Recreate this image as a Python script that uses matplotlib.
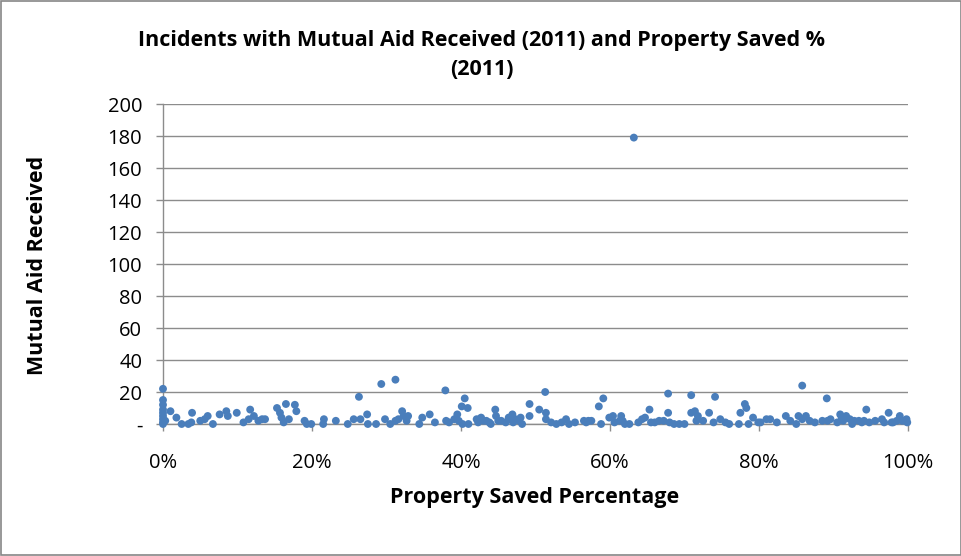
import matplotlib
matplotlib.use("Agg")
import matplotlib.pyplot as plt
from matplotlib.ticker import FuncFormatter, MultipleLocator
from matplotlib.patches import Rectangle

# Property saved (%) and mutual aid received
saved_pct = [
    0, 0, 0, 0, 0, 0, 0, 0, 0, 0.3,
    1.0, 1.8, 2.5, 3.4, 3.9, 3.8, 5.0, 5.6, 6.0, 6.7,
    7.6, 8.5, 8.7, 9.9, 10.8, 11.7, 11.5, 12.2, 12.8, 13.3,
    13.7, 15.3, 15.7, 15.9, 16.5, 16.2, 16.9, 17.7, 17.9, 19.0,
    19.3, 19.9, 21.6, 21.5, 23.2, 24.8, 25.6, 26.3, 26.5, 27.4,
    27.5, 29.3, 31.2, 28.6, 29.8, 31.2, 31.6, 32.1, 32.3, 32.7,
    32.9, 34.4, 34.8, 35.8, 37.9, 38.0, 38.4, 39.1, 39.5, 39.7,
    40.1, 40.5, 40.9, 40.2, 41.0, 42.1, 42.3, 42.7, 43.0, 43.4,
    43.8, 44.6, 44.7, 45.4, 46.0, 46.4, 46.9, 47.3, 47.8, 48.2,
    49.2, 49.2, 50.5, 51.3, 51.4, 51.4, 52.1, 52.8, 54.1, 54.5,
    55.3, 56.5, 56.8, 57.1, 58.5, 59.1, 58.8, 59.9, 60.4, 60.6,
    61.3, 61.5, 61.7, 62.6, 63.2, 63.8, 64.3, 64.7, 65.3, 65.5,
    66.6, 67.2, 67.8, 67.8, 68.0, 68.6, 69.3, 70.0, 70.9, 70.9,
    71.4, 71.8, 71.6, 72.5, 73.3, 74.1, 73.9, 74.8, 75.5, 76.0,
    77.3, 77.5, 78.1, 78.3, 78.6, 79.2, 79.9, 80.2, 81.0, 81.5,
    82.4, 83.6, 84.2, 85.0, 85.3, 85.8, 85.8, 86.3, 86.8, 87.5,
    88.5, 89.1, 89.2, 89.6, 90.9, 91.1, 91.3, 91.7, 92.2, 92.8,
    93.4, 94.1, 94.4, 94.8, 95.6, 96.5, 96.8, 97.4, 98.0, 98.9,
    99.2, 99.6, 99.8, 99.9, 44.0, 45.0, 46.6, 47.0, 48.0, 90.5,
    92.5, 93.8, 97.8, 98.5, 66.0, 62.0, 57.5, 53.5, 36.5, 30.5,
]
aid_received = [
    22, 15, 12, 9, 7, 5, 3, 1, 0, 2,
    8, 4, 0, 0, 7, 1, 2, 3, 5, 0,
    6, 8, 5, 7, 1, 9, 3, 5, 2, 3,
    3, 10, 7, 4, 12.5, 1, 3, 12, 8, 2,
    0, 0, 3, 0, 2, 0, 3, 17, 3, 6,
    0, 25, 27.7, 0, 3, 2, 3, 8, 5, 2,
    5, 0, 4, 6, 21, 2, 1, 3, 6, 2,
    11, 16, 10, 0, 0, 3, 1, 4, 2, 2,
    1, 9, 5, 2, 1, 4, 6, 3, 2, 0,
    12.5, 5, 9, 20, 7, 3, 1, 0, 3, 0,
    1, 2, 1, 2, 11, 16, 0, 4, 5, 1,
    2, 5, 2, 0, 179, 1, 3, 4, 9, 1,
    2, 2, 19, 7, 1, 0, 0, 0, 18, 7,
    8, 5, 2, 2, 7, 17, 1, 3, 1, 0,
    0, 7, 12.5, 10, 0, 4, 1, 1, 3, 3,
    1, 5, 2, 0, 5, 24, 3, 5, 2, 1,
    2, 16, 2, 3, 6, 4, 2, 5, 3, 2,
    2, 2, 9, 1, 2, 3, 1, 7, 1, 5,
    2, 2, 3, 1, 0, 2, 3, 1, 4, 1,
    0, 1, 1, 2, 1, 0, 2, 1, 1, 0,
]

title = "Incidents with Mutual Aid Received (2011) and Property Saved %\n(2011)"
x_label = "Property Saved Percentage"
y_label = "Mutual Aid Received"

plt.rcParams['font.family'] = ['Open Sans', 'DejaVu Sans']

fig = plt.figure(figsize=(9.62, 5.56), dpi=100)
W, H = 962, 556
left, right, top, bottom = 163, 908, 104, 424
ax = fig.add_axes([left / W, 1 - bottom / H, (right - left) / W, (bottom - top) / H])

ax.scatter([v / 100 for v in saved_pct], aid_received, s=32, color='#4A7EBB',
           edgecolors='none', zorder=3, clip_on=False)

ax.set_xlim(0, 1)
ax.set_ylim(0, 200)
ax.xaxis.set_major_locator(MultipleLocator(0.2))
ax.yaxis.set_major_locator(MultipleLocator(20))
ax.xaxis.set_major_formatter(FuncFormatter(lambda v, p: f"{v*100:.0f}%"))
ax.yaxis.set_major_formatter(FuncFormatter(lambda v, p: "-" if abs(v) < 1e-9 else f"{v:.0f}"))

grid_c = '#8C8C8C'
ax.grid(axis='y', color=grid_c, linewidth=1.0, zorder=0)
ax.set_axisbelow(True)
for s in ['top', 'right']:
    ax.spines[s].set_visible(False)
for s in ['left', 'bottom']:
    ax.spines[s].set_color(grid_c)
    ax.spines[s].set_linewidth(1.0)
ax.tick_params(axis='both', direction='out', length=5, color=grid_c, width=1.0,
               labelsize=14.5, labelcolor='black')
ax.tick_params(axis='x', pad=16)
ax.tick_params(axis='y', pad=10)

ax.set_xlabel(x_label, fontsize=15.5, fontweight='bold')
ax.set_ylabel(y_label, fontsize=15.5, fontweight='bold')
ax.xaxis.set_label_coords((535 - left) / (right - left), (bottom - 498) / (bottom - top))
ax.yaxis.set_label_coords((37 - left) / (right - left), (bottom - 265) / (bottom - top))
ax.xaxis.label.set_va('center')
ax.yaxis.label.set_va('center')

fig.text(482 / W, 1 - 55 / H, title, ha='center', va='center', fontsize=15.5,
         fontweight='bold', linespacing=1.5)

# outer chart border
fig.patches.append(Rectangle((1 / W, 1 / H), 1 - 2 / W, 1 - 2 / H, transform=fig.transFigure,
                             fill=False, edgecolor='#868686', linewidth=1.2))

fig.savefig("out.png", dpi=100)
